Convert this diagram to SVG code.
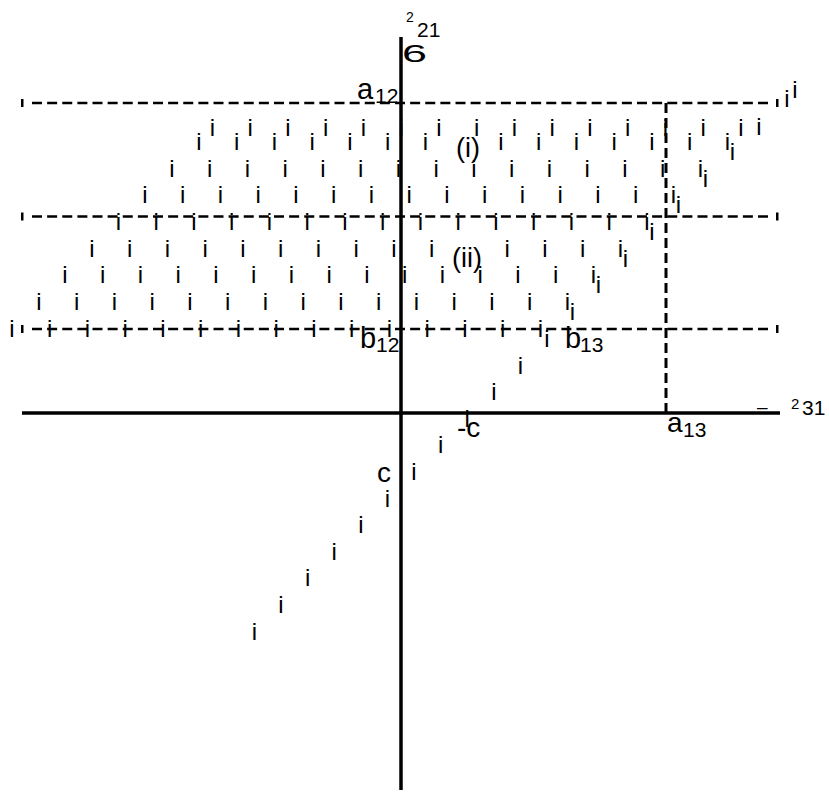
<svg xmlns="http://www.w3.org/2000/svg" width="829" height="793" viewBox="0 0 829 793">
<style>
.h{font-family:"Liberation Sans",Arial,sans-serif;font-size:24px;fill:#000;text-anchor:middle}
.lbl{font-family:"Liberation Sans",Arial,sans-serif;fill:#000}
.big{font-size:29px}
.sub{font-size:21px}
.par{font-size:27px}
.dash{stroke:#000;stroke-width:2.5;stroke-dasharray:10 5.125;fill:none}
.vdash{stroke:#000;stroke-width:3;stroke-dasharray:10 5;fill:none}
.axis{stroke:#000;stroke-width:3.5;fill:none}
.tick{fill:#000}
</style>
<rect width="829" height="793" fill="#fff"/>
<g id="guides">
<path class="dash" d="M32 103H772"/>
<path class="dash" d="M32 216.5H772"/>
<path class="dash" d="M32 329H772"/>
<path class="vdash" d="M666 103V412"/>
<rect class="tick" x="21" y="99" width="2.5" height="8"/>
<rect class="tick" x="21" y="212.5" width="2.5" height="8"/>
<rect class="tick" x="21" y="325" width="2.5" height="8"/>
<rect class="tick" x="776" y="99" width="2.5" height="8"/>
<rect class="tick" x="776" y="212.5" width="2.5" height="8"/>
<rect class="tick" x="776" y="325" width="2.5" height="8"/>
</g>
<g id="axes">
<path class="axis" d="M401 37V790"/>
<path class="axis" d="M22 413H780" stroke-width="3"/>
</g>
<g id="hatch">
<text class="h" x="199 236.75 274.5 312.25 350 387.75 425.5 501 538.75 576.5 614.25 652 689.75 727.5" y="150">iiiiiiiiiiiiii</text>
<text class="h" x="212.5 250.25 288 325.75 363.5 401.25 439 476.75 514.5 552.25 590 627.75 665.5 703.25 741" y="136">iiiiiiiiiiiiiii</text>
<text class="h" x="759" y="135">i</text>
<text class="h" x="787" y="107">i</text>
<text class="h" x="795" y="98">i</text>
<text class="h" x="172 209.75 247.5 285.25 323 360.75 398.5 436.25 474 511.75 549.5 587.25 625 662.75 700.5" y="177">iiiiiiiiiiiiiii</text>
<text class="h" x="145 182.75 220.5 258.25 296 333.75 371.5 409.25 447 484.75 522.5 560.25 598 635.75 673.5" y="203">iiiiiiiiiiiiiii</text>
<text class="h" x="118.5 156.25 194 231.75 269.5 307.25 345 382.75 420.5 458.25 496 533.75 571.5 609.25 647" y="230">iiiiiiiiiiiiiii</text>
<text class="h" x="92 129.75 167.5 205.25 243 280.75 318.5 356.25 394 431.75 507.25 545 582.75 620.5" y="257">iiiiiiiiiiiiii</text>
<text class="h" x="65 102.75 140.5 178.25 216 253.75 291.5 329.25 367 404.75 442.5 480.25 518 555.75 593.5" y="283">iiiiiiiiiiiiiii</text>
<text class="h" x="39 76.75 114.5 152.25 190 227.75 265.5 303.25 341 378.75 416.5 454.25 492 529.75 567.5" y="310">iiiiiiiiiiiiiii</text>
<text class="h" x="12 49.75 87.5 125.25 163 200.75 238.5 276.25 314 351.75 389.5 427.25 465 502.75 540.5" y="337">iiiiiiiiiiiiiii</text>
<text class="h" x="732.5 705.5 678.5 652 625.5 598.5 572.5 547" y="160 187 213 240 267 293 320 347">iiiiiiii</text>
<text class="h" x="520.4 493.8 467.2 440.6 414 387.4 360.8 334.2 307.6 281 254.4" y="373.6 400.2 426.8 453.4 480 506.6 533.2 559.8 586.4 613 639.6">iiiiiiiiiii</text>
</g>
<g id="labels">
<text class="lbl" x="406" y="22" font-size="14">2</text>
<text class="lbl sub" x="417" y="37">21</text>
<text class="lbl" x="402" y="62" font-size="24" textLength="25" lengthAdjust="spacingAndGlyphs">6</text>
<text class="lbl big" x="357" y="99">a</text>
<text class="lbl sub" x="375" y="103">12</text>
<text class="lbl par" x="456" y="157">(i)</text>
<text class="lbl par" x="452" y="267">(ii)</text>
<text class="lbl big" x="360" y="348">b</text>
<text class="lbl sub" x="376" y="352">12</text>
<text class="lbl big" x="565" y="348">b</text>
<text class="lbl sub" x="580" y="352">13</text>
<text class="lbl" x="457" y="437" font-size="28">-c</text>
<text class="lbl" x="377" y="482" font-size="28">c</text>
<text class="lbl" x="667" y="432" font-size="28">a</text>
<text class="lbl sub" x="683" y="437">13</text>
<text class="lbl" x="757" y="413" font-size="19">–</text>
<text class="lbl" x="791" y="409" font-size="15">2</text>
<text class="lbl sub" x="802" y="415">31</text>
</g>
</svg>
